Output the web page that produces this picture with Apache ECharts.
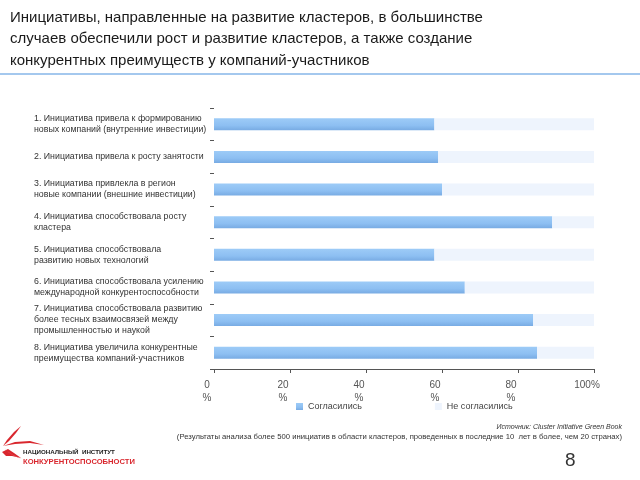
<!DOCTYPE html>
<html><head><meta charset="utf-8">
<script src="https://cdn.jsdelivr.net/npm/echarts@6/dist/echarts.min.js"></script>
<style>html,body{margin:0;padding:0;background:#fff}#c{width:640px;height:480px}</style>
</head><body><div id="c"></div>
<script>
const categories = [
  "1. Инициатива привела к формированию\nновых компаний (внутренние инвестиции)",
  "2. Инициатива привела к росту занятости",
  "3. Инициатива привлекла в регион\nновые компании (внешние инвестиции)",
  "4. Инициатива способствовала росту\nкластера",
  "5. Инициатива способствовала\nразвитию новых технологий",
  "6. Инициатива способствовала усилению\nмеждународной конкурентоспособности",
  "7. Инициатива способствовала развитию\nболее тесных взаимосвязей между\nпромышленностью и наукой",
  "8. Инициатива увеличила конкурентные\nпреимущества компаний-участников"
];
const agreed = [58, 59, 60, 89, 58, 66, 84, 85];
const disagreed = [42, 41, 40, 11, 42, 34, 16, 15];
const xTickLabels = ["0\n%", "20\n%", "40\n%", "60\n%", "80\n%", "100%"];
const seriesNames = ["Согласились", "Не согласились"];

const chart = echarts.init(document.getElementById('c'), null, {renderer: 'canvas'});
const font = '"Liberation Sans", Arial, sans-serif';
chart.setOption({
  animation: false,
  backgroundColor: '#fff',
  textStyle: {fontFamily: font},
  title: {
    text: "Инициативы, направленные на развитие кластеров, в большинстве\nслучаев обеспечили рост и развитие кластеров, а также создание\nконкурентных преимуществ у компаний-участников",
    left: 5, top: 2,
    textStyle: {fontFamily: font, fontSize: 15, fontWeight: 'normal', color: '#1a1a1a', lineHeight: 21.5}
  },
  legend: {
    data: seriesNames,
    left: 291, top: 397,
    itemWidth: 7, itemHeight: 7, itemGap: 73,
    icon: 'rect',
    textStyle: {fontSize: 9, color: '#444', fontFamily: font}
  },
  grid: {left: 214, right: 46, top: 108, bottom: 111},
  xAxis: {
    type: 'value', min: 0, max: 100, interval: 20,
    axisLine: {show: true, lineStyle: {color: '#555'}},
    axisTick: {show: true, length: 4, lineStyle: {color: '#555'}},
    splitLine: {show: false},
    axisLabel: {
      formatter: (v) => xTickLabels[Math.round(v / 20)],
      fontSize: 10, color: '#555', lineHeight: 13, margin: 10,
      padding: [0, 14, 0, 0], fontFamily: font
    }
  },
  yAxis: {
    type: 'category', inverse: true, data: categories,
    axisLine: {show: false},
    axisTick: {show: true, length: 4, lineStyle: {color: '#555'}},
    axisLabel: {
      align: 'left', margin: 180, fontSize: 8.8, lineHeight: 11, color: '#333', fontFamily: font
    }
  },
  series: [
    {
      name: seriesNames[0], type: 'bar', stack: 't', barWidth: 12,
      data: agreed,
      itemStyle: {color: new echarts.graphic.LinearGradient(0, 0, 0, 1, [
        {offset: 0, color: '#9DCBF7'}, {offset: 0.6, color: '#8DBFF2'}, {offset: 1, color: '#78ABE3'}
      ])}
    },
    {
      name: seriesNames[1], type: 'bar', stack: 't', barWidth: 12,
      data: disagreed,
      itemStyle: {color: '#EEF4FD'}
    }
  ],
  graphic: [
    {type: 'line', shape: {x1: 0, y1: 74, x2: 640, y2: 74}, style: {stroke: '#A4C8EE', lineWidth: 2}},
    {type: 'text', x: 622, y: 424, style: {text: 'Источник: Cluster Initiative Green Book', font: 'italic 7px ' + font, fill: '#333', align: 'right'}},
    {type: 'text', x: 622, y: 433, style: {text: '(Результаты анализа более 500 инициатив в области кластеров, проведенных в последние 10  лет в более, чем 20 странах)', font: '7.7px ' + font, fill: '#333', align: 'right'}},
    {type: 'text', x: 565, y: 451, style: {text: '8', font: '19px ' + font, fill: '#333'}},
    {type: 'polygon', shape: {points: [[21,426],[14,432],[7,440],[3,446],[9,441],[16,433]]}, style: {fill: '#D9272E'}},
    {type: 'polygon', shape: {points: [[3,446],[15,442],[30,441],[44,445],[30,443],[15,444]]}, style: {fill: '#D9272E'}},
    {type: 'polygon', shape: {points: [[2,452],[8,449],[14,453],[21,458],[12,456],[6,456]]}, style: {fill: '#D9272E'}},
    {type: 'polygon', shape: {points: [[4,447],[8,452],[14,456],[22,459],[13,455],[7,451]]}, style: {fill: '#E06469'}},
    {type: 'text', x: 23, y: 449, style: {text: 'НАЦИОНАЛЬНЫЙ  ИНСТИТУТ', font: 'bold 6.2px ' + font, fill: '#222'}},
    {type: 'text', x: 23, y: 458, style: {text: 'КОНКУРЕНТОСПОСОБНОСТИ', font: 'bold 7.6px ' + font, fill: '#D9272E'}}
  ]
});
</script>
</body></html>
